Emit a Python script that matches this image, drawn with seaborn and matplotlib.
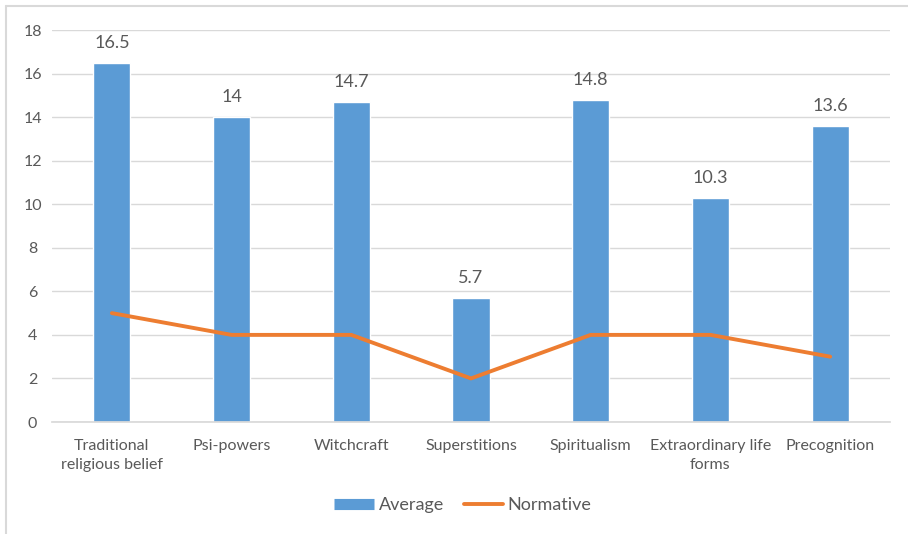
import matplotlib
matplotlib.use("Agg")
import matplotlib.pyplot as plt
from matplotlib.lines import Line2D
import seaborn as sns
import pandas as pd

categories = ["Traditional\nreligious belief", "Psi-powers", "Witchcraft", "Superstitions",
              "Spiritualism", "Extraordinary life\nforms", "Precognition"]
average = [16.5, 14, 14.7, 5.7, 14.8, 10.3, 13.6]
normative = [5, 4, 4, 2, 4, 4, 3]
y_ticks = [0, 2, 4, 6, 8, 10, 12, 14, 16, 18]

BLUE = "#5B9BD5"
ORANGE = "#ED7D31"
TEXT = "#595959"
GRID = "#D9D9D9"

sns.set_theme(style="white")
plt.rcParams["font.family"] = ["Lato", "DejaVu Sans"]

df = pd.DataFrame({"category": categories, "Average": average, "Normative": normative})

fig = plt.figure(figsize=(9.08, 5.34), dpi=100)
ax = fig.add_axes([52 / 908, 1 - 422 / 534, 838 / 908, 392 / 534])

sns.barplot(data=df, x="category", y="Average", color=BLUE, width=0.31,
            saturation=1, ax=ax, zorder=2)
sns.lineplot(data=df, x="category", y="Normative", color=ORANGE, linewidth=2.8,
             sort=False, ax=ax, zorder=3)

for i, v in enumerate(average):
    ax.text(i, v + 0.55, f"{v:g}", ha="center", va="bottom", fontsize=13, color=TEXT)

ax.set_ylim(0, 18)
ax.set_xlim(-0.5, len(categories) - 0.5)
ax.set_yticks(y_ticks)
ax.yaxis.grid(True, color=GRID, linewidth=1)
ax.set_axisbelow(True)
for s in ["top", "right", "left"]:
    ax.spines[s].set_visible(False)
ax.spines["bottom"].set_color(GRID)
ax.tick_params(axis="both", length=0, labelsize=11.5, colors=TEXT)
ax.tick_params(axis="x", pad=12)
ax.tick_params(axis="y", pad=14)
for lbl in ax.get_yticklabels():
    lbl.set_horizontalalignment("center")
for lbl in ax.get_xticklabels():
    lbl.set_linespacing(1.45)
ax.set_xlabel("")
ax.set_ylabel("")

handles = [
    Line2D([0], [0], color=BLUE, linewidth=8, solid_capstyle="butt"),
    Line2D([0], [0], color=ORANGE, linewidth=2.8),
]
leg = fig.legend(handles, ["Average", "Normative"], loc="center",
                 bbox_to_anchor=(463 / 908, 1 - 505 / 534), ncol=2, frameon=False,
                 fontsize=13, handlelength=2.2, columnspacing=1.1, handletextpad=0.25)
for t in leg.get_texts():
    t.set_color(TEXT)

# chart frame (top and left edges)
fig.add_artist(Line2D([6 / 908, 1], [1 - 6 / 534, 1 - 6 / 534], color=GRID, linewidth=1.5,
                      transform=fig.transFigure))
fig.add_artist(Line2D([6 / 908, 6 / 908], [0, 1 - 6 / 534], color=GRID, linewidth=1.5,
                      transform=fig.transFigure))

fig.savefig("out.png", dpi=100)
